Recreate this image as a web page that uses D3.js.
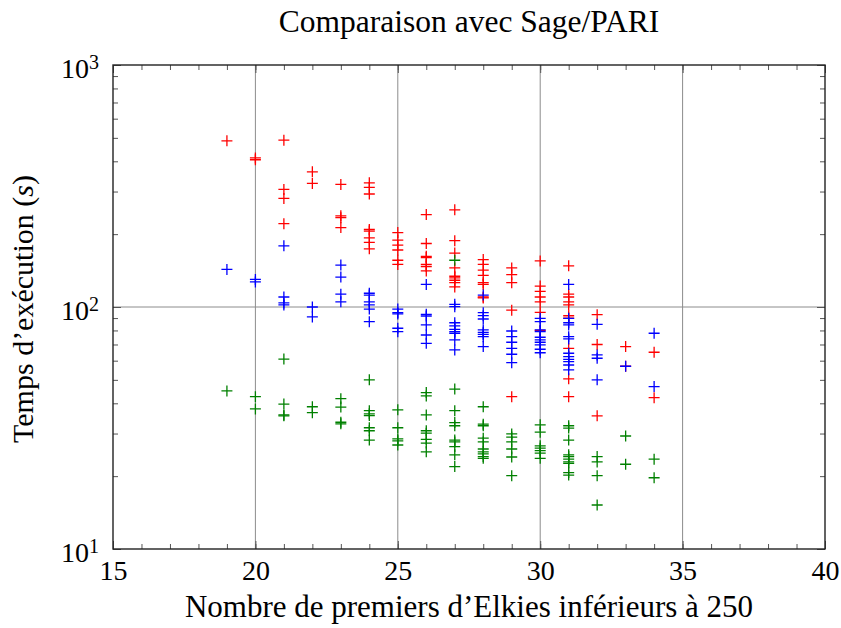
<!DOCTYPE html>
<html>
<head>
	<title>Comparaison avec Sage/PARI</title>
	<script src="https://d3js.org/d3.v7.min.js"></script>
	<style>
		body{margin:0;background:#fff;}
	</style>
</head>
<body>
	<div class="chart"></div>
	<script>
		// nombre de premiers d'Elkies (abscisses)
		const nbElkies = [19,20,21,22,23,24,25,26,27,28,29,30,31,32,33,34];
		// temps (s) par abscisse, une liste par serie
		const tempsRouge = [[486],[413,406],[489,306,281,221],[362,324],[321,238,234,213],
			[326,312,293,209,206,193,185,174],[203,189,180,172,156,150],[241,183,162,160,150,147,141],
			[252,188,167,145,134,132,129,126,121],[157,150,142,135,126,124,110,109],[145,136,126,97,42.6],
			[155,122,116,110,105,95,80],[148,113,110,105,102,92,90,67.5,50.5,42.6],[93,70,35.5],[68.6,56.9],[65,42.2]];
		const tempsBleu = [[143],[130,127],[179,110,104,102],[100,91],[149,133,113,105],
			[114,112,105,102,98,87],[98,94.7,93.6,81.7,79.1],[124,93.3,91.8,84.3,76.6,70.8],
			[102.6,100.3,86.1,83.5,80.9,79.1,77.9,73.1,66.5],[112,94.7,92.1,89.2,80.4,78.6,77.1,75.4,68.6],
			[79.6,75.4,71.5,67.5,63.8,58.9],[89.8,87,80.4,79.1,75,73.1,71.5,69.7,66.9,64.7],
			[124,89.8,86.1,84.3,75.4,73.8,64.4,62.4,60.8,59.5,57.6,55],[84.8,63.4,61.4,50],[56.9],[77.9,46.9]];
		const tempsVert = [[45],[42.6,37.9],[60.9,39.7,35.8,35.5],[38.7,36.6],[41.8,38.6,33.4,32.9],
			[50,37.3,36.2,35.6,31.7,30.8,28.2],[37.6,31.7,28.5,28,26.9],[44.3,42.9,35.8,30.8,30.1,28.4,27.4,25.2],
			[156,45.8,37.3,33.3,32.3,28.2,27.7,26.5,24.5,21.9],[38.7,32.8,32.3,28.7,27.7,25.9,25.2,24.7,24.1,23.7],
			[29.9,29,27.7,25.9,24,20.1],[32.6,30.4,26.7,26.1,25.5,24.9,23.7],
			[32.3,31.6,28.2,24.5,24.1,23.5,22.9,22.6,20.7,20.2],[24.1,22.9,20.1,15.2],[29.3,22.4],[23.5,19.7]];
		const couleurs = ['#ff0000','#0000ff','#008000'];
		const xTicks = [15,20,25,30,35,40];
		const yTicks = [10,100,1000];

		const W = 841, H = 628;
		const mLeft = 113, mRight = 825, mTop = 65, mBottom = 549;
		const police = 'Liberation Serif';

		const svg = d3.select('.chart').append('svg').attr('width',W).attr('height',H)
			.attr('font-family',police)

		const x = d3.scaleLinear().domain([15,40]).range([mLeft,mRight])
		const y = d3.scaleLog().domain([10,1000]).range([mBottom,mTop])

		// grille
		svg.append('g').selectAll('line').data(xTicks.slice(1,-1)).join('line')
			.attr('x1',d=>x(d)).attr('x2',d=>x(d)).attr('y1',mTop).attr('y2',mBottom)
			.attr('stroke','#8c8c8c').attr('stroke-width',1)
		svg.append('g').selectAll('line').data(yTicks.slice(1,-1)).join('line')
			.attr('y1',d=>y(d)).attr('y2',d=>y(d)).attr('x1',mLeft).attr('x2',mRight)
			.attr('stroke','#8c8c8c').attr('stroke-width',1)

		// petites graduations
		const xMinor = d3.range(15,41)
		const yMinor = [];
		[10,100].forEach(p=>{ for(let k=2;k<10;k++) yMinor.push(p*k) })

		const xb = d3.axisBottom(x).tickValues(xMinor).tickSize(-5).tickFormat('')
		const xt = d3.axisTop(x).tickValues(xMinor).tickSize(-5).tickFormat('')
		const yl = d3.axisLeft(y).tickValues(yMinor).tickSize(-5).tickFormat('')
		const yr = d3.axisRight(y).tickValues(yMinor).tickSize(-5).tickFormat('')
		svg.append('g').attr('transform',`translate(0,${mBottom})`).call(xb)
		svg.append('g').attr('transform',`translate(0,${mTop})`).call(xt)
		svg.append('g').attr('transform',`translate(${mLeft},0)`).call(yl)
		svg.append('g').attr('transform',`translate(${mRight},0)`).call(yr)

		// graduations principales + etiquettes
		const xAxis = d3.axisBottom(x).tickValues(xTicks).tickSize(-8).tickPadding(11).tickFormat(d3.format('d'))
		const gx = svg.append('g').attr('transform',`translate(0,${mBottom})`).call(xAxis)
		svg.append('g').attr('transform',`translate(0,${mTop})`).call(d3.axisTop(x).tickValues(xTicks).tickSize(-8).tickFormat(''))
		const yAxis = d3.axisLeft(y).tickValues(yTicks).tickSize(-8).tickPadding(14).tickFormat('')
		const gy = svg.append('g').attr('transform',`translate(${mLeft},0)`).call(yAxis)
		svg.append('g').attr('transform',`translate(${mRight},0)`).call(d3.axisRight(y).tickValues(yTicks).tickSize(-8).tickFormat(''))

		// les axes d3 imposent sans-serif : on remet la police
		svg.selectAll('g').attr('font-family',police).attr('font-size',28)

		gy.selectAll('.tick text').attr('dy','0.45em').each(function(d){
			const t = d3.select(this)
			t.append('tspan').text('10')
			t.append('tspan').attr('dy','-0.45em').attr('font-size','20px').text(Math.round(Math.log10(d)))
		})
		svg.selectAll('.domain').remove()
		svg.selectAll('.tick line').attr('stroke','#555').attr('stroke-width',1)
		svg.selectAll('.tick text').attr('fill','#000')

		// cadre
		svg.append('rect').attr('x',mLeft).attr('y',mTop).attr('width',mRight-mLeft).attr('height',mBottom-mTop)
			.attr('fill','none').attr('stroke','#222').attr('stroke-width',1.4)

		// points
		const pts = []
		;[tempsRouge,tempsBleu,tempsVert].forEach((serie,i)=>{
			serie.forEach((vals,j)=>vals.forEach(v=>pts.push({x:nbElkies[j],v:v,c:couleurs[i]})))
		})
		const s = 5.5
		svg.append('g').selectAll('path').data(pts).join('path')
			.attr('d',d=>`M${x(d.x)-s},${y(d.v)}h${2*s}M${x(d.x)},${y(d.v)-s}v${2*s}`)
			.attr('stroke',d=>d.c).attr('stroke-width',1.3).attr('fill','none')

		// textes
		svg.append('text').attr('x',(mLeft+mRight)/2).attr('y',32).attr('text-anchor','middle')
			.attr('font-size','31.5px').text('Comparaison avec Sage/PARI')
		svg.append('text').attr('x',(mLeft+mRight)/2).attr('y',617).attr('text-anchor','middle')
			.attr('font-size','31px').text('Nombre de premiers d’Elkies inférieurs à 250')
		const ylab = svg.append('text').attr('transform',`translate(33,${(mTop+mBottom)/2+2}) rotate(-90)`)
			.attr('text-anchor','middle').attr('font-size','30px')
		ylab.append('tspan').text('Temps d’exécution (')
		ylab.append('tspan').attr('font-style','italic').text('s')
		ylab.append('tspan').text(')')
	</script>
</body>
</html>
